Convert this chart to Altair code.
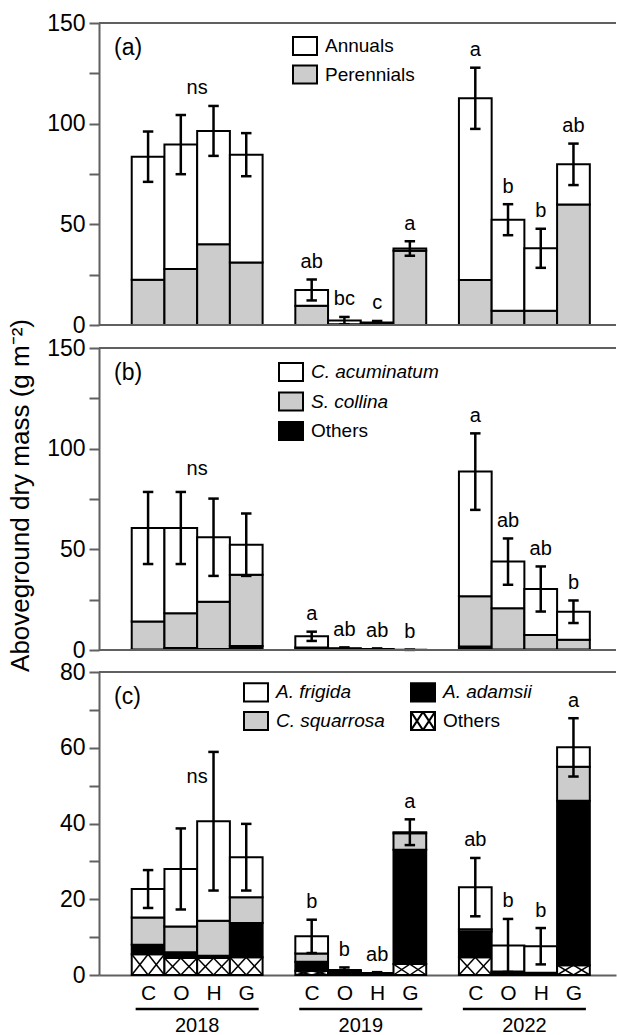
import altair as alt
import pandas as pd

FONT = "Liberation Sans"
GREY = "#606060"

years = ["2018", "2019", "2022"]
treatments = ["C", "O", "H", "G"]

# (a) annuals vs perennials, bars ordered 2018 C..G, 2019 C..G, 2022 C..G
a_total = [83.6, 89.6, 96.4, 84.6, 17.4, 2.2, 1.2, 38.0, 112.6, 52.3, 38.1, 79.8]
a_se = [12.5, 14.7, 12.4, 10.7, 5.2, 1.8, 0.8, 3.6, 15.2, 7.7, 9.7, 10.3]
a_perennials = [22.5, 27.8, 40.1, 31.1, 9.6, 0.4, 0.3, 36.9, 22.4, 7.1, 7.1, 59.8]
a_letters = ["", "", "", "", "ab", "bc", "c", "a", "a", "b", "b", "ab"]

# (b) annual species
b_total = [60.6, 60.6, 56.0, 52.3, 6.8, 0.9, 0.5, 0.1, 88.6, 43.9, 30.3, 19.0]
b_se = [17.9, 17.9, 19.2, 15.5, 2.3, 0.4, 0.3, 0.05, 19.0, 11.5, 11.2, 5.6]
b_collina = [13.9, 17.2, 23.5, 35.4, 1.1, 0.3, 0.1, 0.0, 24.9, 20.4, 7.2, 4.8]
b_others = [0.3, 1.0, 0.5, 2.0, 0.2, 0.3, 0.2, 0.05, 1.8, 0.3, 0.3, 0.3]
b_letters = ["", "", "", "", "a", "ab", "ab", "b", "a", "ab", "ab", "b"]

# (c) perennial species
c_total = [22.7, 28.0, 40.6, 31.1, 10.2, 1.3, 0.5, 37.7, 23.2, 7.8, 7.6, 60.1]
c_se = [5.0, 10.7, 18.3, 8.8, 4.4, 0.7, 0.25, 3.4, 7.7, 7.0, 4.8, 7.7]
c_squarrosa = [7.2, 6.8, 9.2, 6.8, 2.2, 0.1, 0.05, 4.3, 0.6, 0.1, 0.1, 9.0]
c_adamsii = [2.5, 1.5, 0.6, 9.0, 2.4, 0.8, 0.3, 30.2, 6.8, 0.2, 0.2, 43.4]
c_others = [5.5, 4.5, 4.5, 4.7, 1.1, 0.2, 0.1, 2.9, 4.7, 0.6, 0.3, 2.6]
c_letters = ["", "", "", "", "b", "b", "ab", "a", "ab", "b", "b", "a"]

# 2018 had no significant differences: one "ns" per panel
ns_height = [117.7, 89.9, 52.4]

# layout of the stacked panels (pixels from the top of the first panel)
W = 517
PANEL_TOP = [0, 325, 649]
PANEL_H = [302, 302, 303]
TOTAL_H = PANEL_TOP[2] + PANEL_H[2]
X_DOMAIN = [0, 15.8]
BOX = "M-1,-0.76L1,-0.76L1,0.76L-1,0.76Z"
HATCH = BOX + "M-1,-0.76L0,0.76M0,-0.76L1,0.76M0,-0.76L-1,0.76M1,-0.76L0,0.76"

XS = alt.Scale(domain=X_DOMAIN, nice=False, zero=False)
CENTERS = [1 + 5 * (i // 4) + i % 4 + 0.5 for i in range(12)]
TRT = ",".join(f"'{t}'" for t in treatments)
X_AXIS = alt.Axis(values=CENTERS, ticks=False, title=None,
                  labelExpr=f"[{TRT}][round(datum.value - 1.5) % 5]",
                  labelFontSize=21, labelPadding=7)


def slot(i):
    # four bars per year, one empty slot before each year group
    return 1 + 5 * (i // 4) + i % 4


def stack_frame(parts, total):
    """parts run bottom to top; the last one (values None) fills up to the total."""
    rows = []
    for i in range(len(total)):
        lo = 0.0
        for name, vals in parts:
            amount = vals[i] if vals is not None else total[i] - lo
            hi = lo + amount
            rows.append({"species": name, "x0": slot(i), "x1": slot(i) + 1,
                         "lo": lo, "hi": hi})
            lo = hi
    return pd.DataFrame(rows)


def summary_frame(total, se, letters):
    rows = []
    for i in range(len(total)):
        c = slot(i) + 0.5
        rows.append({"xc": c, "cap0": c - 0.16, "cap1": c + 0.16,
                     "elo": max(total[i] - se[i], 0.0), "ehi": total[i] + se[i],
                     "letter": letters[i]})
    return pd.DataFrame(rows)


def hatch_frame(values):
    rows = []
    for i, v in enumerate(values):
        s = slot(i)
        for a, b in [(0, 0.5), (0.5, 1), (0.5, 0), (1, 0.5)]:
            rows.append({"hx0": s + a, "hx1": s + b, "hy0": 0.0, "hy1": v})
    return pd.DataFrame(rows)


def panel(idx, key, parts, names, colors, total, se, letters, ymax, step,
          lab_step, legend, ytitle=None, hatch=None):
    top = PANEL_TOP[idx]
    bottom = top + PANEL_H[idx]
    ys = alt.Scale(domain=[0, ymax], range=[bottom, top], nice=False)
    y_axis_kw = dict(orient="left", values=list(range(0, ymax + 1, step)),
                     labelExpr=f"datum.value % {lab_step} === 0 ? datum.label : ''")
    if ytitle:
        y_axis = alt.Axis(title=ytitle, titleFontSize=26, titleY=(top + bottom) / 2 - 4,
                          titlePadding=13, **y_axis_kw)
    else:
        y_axis = alt.Axis(title=None, **y_axis_kw)

    def X(field):
        return alt.X(field, type="quantitative", scale=XS, axis=X_AXIS)

    def Y(field):
        return alt.Y(field, type="quantitative", scale=ys, axis=y_axis, stack=None)

    stack = stack_frame(parts, total)
    summ = summary_frame(total, se, letters)

    bars = alt.Chart(stack).mark_bar(stroke="black", strokeWidth=2).encode(
        x=X("x0"), x2="x1", y=Y("lo"), y2="hi",
        fill=alt.Fill("species:N", scale=alt.Scale(domain=names, range=colors),
                      legend=legend),
    )
    layers = [bars]
    if hatch is not None:
        layers.append(alt.Chart(hatch_frame(hatch)).mark_rule(
            color="black", strokeWidth=1.5).encode(
            x=X("hx0"), x2="hx1", y=Y("hy0"), y2="hy1"))
    err = alt.Chart(summ).mark_rule(color="black", strokeWidth=2.5).encode(
        x=X("xc"), y=Y("elo"), y2="ehi")
    cap_hi = alt.Chart(summ).mark_rule(color="black", strokeWidth=2.5).encode(
        x=X("cap0"), x2="cap1", y=Y("ehi"))
    cap_lo = alt.Chart(summ).mark_rule(color="black", strokeWidth=2.5).encode(
        x=X("cap0"), x2="cap1", y=Y("elo"))
    lett = alt.Chart(summ).mark_text(font=FONT, fontSize=20, baseline="middle",
                                     dy=-17.5).encode(
        x=X("xc"), y=Y("ehi"), text="letter:N")
    ns = alt.Chart(pd.DataFrame({"x": [(slot(0) + slot(3) + 1) / 2],
                                 "y": [ns_height[idx]], "t": ["ns"]})).mark_text(
        font=FONT, fontSize=20, baseline="middle").encode(
        x=X("x"), y=Y("y"), text="t:N")
    tag = alt.Chart(pd.DataFrame({"t": [f"({key})"]})).mark_text(
        font=FONT, fontSize=23, align="left", baseline="middle").encode(
        x=alt.value(15), y=alt.value(top + 24.5), text="t:N")
    # frame line along the top of the panel, and the baseline for the upper panels
    frame = alt.Chart(pd.DataFrame({"t": [0]})).mark_rule(
        color=GREY, strokeWidth=2).encode(x=alt.value(0), x2=alt.value(W),
                                          y=alt.value(top))
    layers += [err, cap_hi, cap_lo, lett, ns, tag, frame]
    if bottom < TOTAL_H:
        layers.append(alt.Chart(pd.DataFrame({"t": [0]})).mark_rule(
            color=GREY, strokeWidth=2).encode(x=alt.value(0), x2=alt.value(W),
                                              y=alt.value(bottom)))
    else:
        yr = pd.DataFrame({
            "year": years,
            "g0": [slot(4 * k) + 0.12 for k in range(3)],
            "g1": [slot(4 * k + 3) + 1 - 0.12 for k in range(3)],
            "gc": [slot(4 * k) + 2 for k in range(3)],
        })
        layers.append(alt.Chart(yr).mark_rule(color="black", strokeWidth=2.5).encode(
            x=X("g0"), x2="g1", y=alt.value(bottom + 34)))
        layers.append(alt.Chart(yr).mark_text(font=FONT, fontSize=20,
                                              baseline="middle").encode(
            x=X("gc"), y=alt.value(bottom + 51), text="year:N"))

    return alt.layer(*layers)


def legend(x, y, shape=BOX, style="normal", columns=1, row_pad=0.5):
    return alt.Legend(title=None, orient="none", legendX=x, legendY=y,
                      symbolType=shape, symbolSize=576,
                      symbolStrokeColor="black", symbolStrokeWidth=2,
                      labelFont=FONT, labelFontSize=19, labelOffset=7,
                      labelFontStyle=style, rowPadding=row_pad, padding=0,
                      columns=columns, columnPadding=22)


italic = alt.ExprRef(expr="datum.label == 'Others' ? 'normal' : 'italic'")
hatched = alt.ExprRef(expr=f"datum.label == 'Others' ? '{HATCH}' : '{BOX}'")

pa = panel(0, "a",
           [("Perennials", a_perennials), ("Annuals", None)],
           ["Annuals", "Perennials"], ["white", "#cccccc"],
           a_total, a_se, a_letters, 150, 25, 50,
           legend(193, PANEL_TOP[0] + 10))
pb = panel(1, "b",
           [("Others", b_others), ("S. collina", b_collina), ("C. acuminatum", None)],
           ["C. acuminatum", "S. collina", "Others"], ["white", "#cccccc", "black"],
           b_total, b_se, b_letters, 150, 25, 50,
           legend(179, PANEL_TOP[1] + 11, style=italic, row_pad=1.5),
           ytitle="Aboveground dry mass (g m\u207b\u00b2)")
# legend fills column by column: frigida / squarrosa, then adamsii / others
pc = panel(2, "c",
           [("Others", c_others), ("A. adamsii", c_adamsii),
            ("C. squarrosa", c_squarrosa), ("A. frigida", None)],
           ["A. frigida", "C. squarrosa", "A. adamsii", "Others"],
           ["white", "#cccccc", "black", "white"],
           c_total, c_se, c_letters, 80, 10, 20,
           legend(144, PANEL_TOP[2] + 7, shape=hatched, style=italic, columns=2,
                  row_pad=1),
           hatch=c_others)

chart = alt.layer(pa, pb, pc).resolve_scale(
    y="independent", fill="independent"
).resolve_axis(y="independent").resolve_legend(fill="independent").properties(
    width=W, height=TOTAL_H,
    padding={"left": 7, "top": 12, "right": 0, "bottom": 0},
).configure_view(stroke=None).configure_axis(
    domainColor=GREY, domainWidth=2, tickColor=GREY, tickWidth=2, tickSize=10,
    labelFont=FONT, labelFontSize=23, labelColor="black", labelPadding=4,
    titleFont=FONT, titleFontSize=22, titleFontWeight="normal", titleColor="black",
    titlePadding=8, grid=False,
)

chart.save("out.html", embed_options={"renderer": "svg", "actions": False})
